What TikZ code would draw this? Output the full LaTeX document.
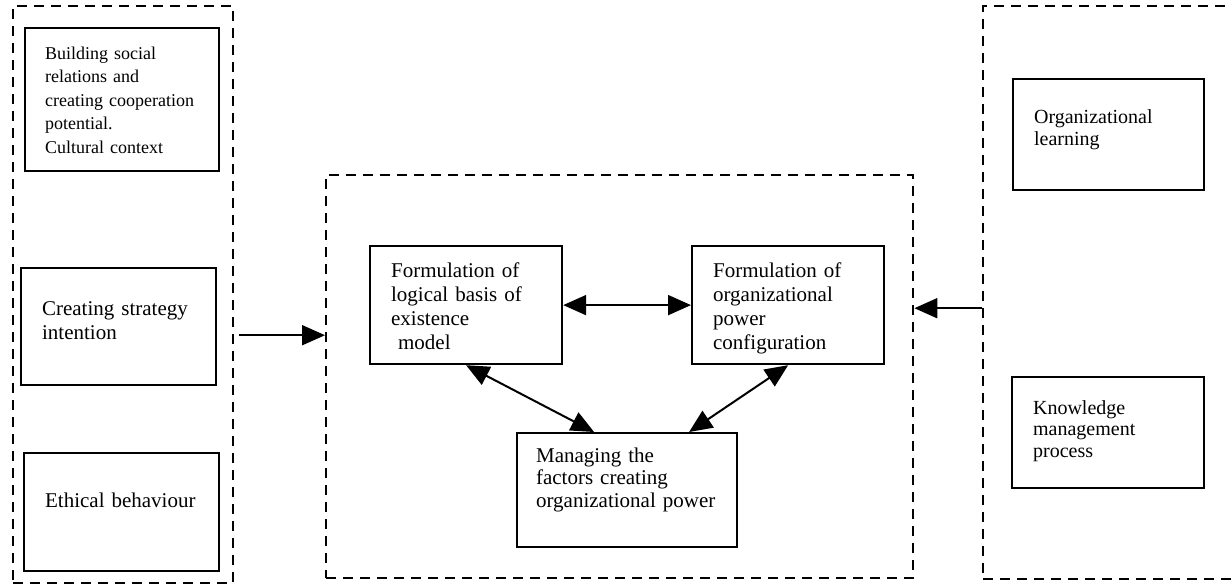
\documentclass[tikz,border=0pt]{standalone}
\usepackage{fontspec}
\setmainfont{Liberation Serif}
\usetikzlibrary{arrows.meta}

\begin{document}
\begin{tikzpicture}[x=0.5pt, y=-0.5pt,
    group/.style={draw, line width=1.2pt, dash pattern=on 5pt off 3.5pt, inner sep=0pt, anchor=north west},
    factor/.style={draw, line width=1.1pt, inner xsep=10.5pt, inner ysep=0pt, align=left, anchor=north west, font=\fontsize{10.5pt}{12pt}\selectfont},
    sidefactor/.style={factor, font=\fontsize{10pt}{11pt}\selectfont},
    link/.style={line width=1pt, -{Triangle[length=11.5pt, width=10pt]}},
    dlink/.style={line width=1pt, {Triangle[length=11.5pt, width=10pt]}-{Triangle[length=11.5pt, width=10pt]}}
  ]
  \clip (0,0) rectangle (1231,585);

  % dashed frames
  \node[group, minimum width=110pt, minimum height=288.5pt] (inputs) at (12,5) {};
  \node[group, minimum width=293.5pt, minimum height=201.5pt] (core) at (325,174) {};
  \node[group, minimum width=134pt, minimum height=286.5pt] (support) at (982,5) {};

  % left column
  \node[factor, inner xsep=10pt, text width=77pt, text height=15.5pt, text depth=56pt, font=\fontsize{9pt}{11.75pt}\selectfont] (social) at (24,27)
    {Building social\\relations and\\creating cooperation\\potential.\\Cultural context};
  \node[factor, text width=76.5pt, text height=23.5pt, text depth=35pt] (strategy) at (20,267)
    {Creating strategy\\intention};
  \node[factor, text width=76.5pt, text height=27pt, text depth=32pt] (ethics) at (23,452)
    {Ethical behaviour};

  % centre
  \node[factor, text width=75pt, text height=15.5pt, text depth=43.5pt] (logic) at (369,245)
    {Formulation of\\logical basis of\\existence\\\ model};
  \node[factor, text width=75pt, text height=15.5pt, text depth=43.5pt] (power) at (691,245)
    {Formulation of\\organizational\\power\\configuration};
  \node[factor, inner xsep=9.5pt, text width=91pt, text height=14.5pt, text depth=42.5pt, font=\fontsize{10.5pt}{11.25pt}\selectfont] (manage) at (516,432)
    {Managing the\\factors creating\\organizational power};

  % right column
  \node[sidefactor, text width=74.5pt, text height=22pt, text depth=33.5pt] (learning) at (1012,78)
    {Organizational\\learning};
  \node[sidefactor, text width=75pt, text height=18.5pt, text depth=37pt, font=\fontsize{10pt}{10.75pt}\selectfont] (knowledge) at (1011,376)
    {Knowledge\\management\\process};

  % arrows
  \draw[link] ([shift={(2.5pt,-20.25pt)}]inputs.east) -- ([yshift=-20.25pt]inputs.east -| core.west);
  \draw[link] ([yshift=-7.75pt]support.west) -- ([yshift=-7.75pt]support.west -| core.east);
  \draw[dlink] (logic) -- (power);
  \draw[dlink] (logic.south) -- ([xshift=-16.5pt]manage.north);
  \draw[dlink] (power.south) -- ([xshift=31pt]manage.north);
\end{tikzpicture}
\end{document}
